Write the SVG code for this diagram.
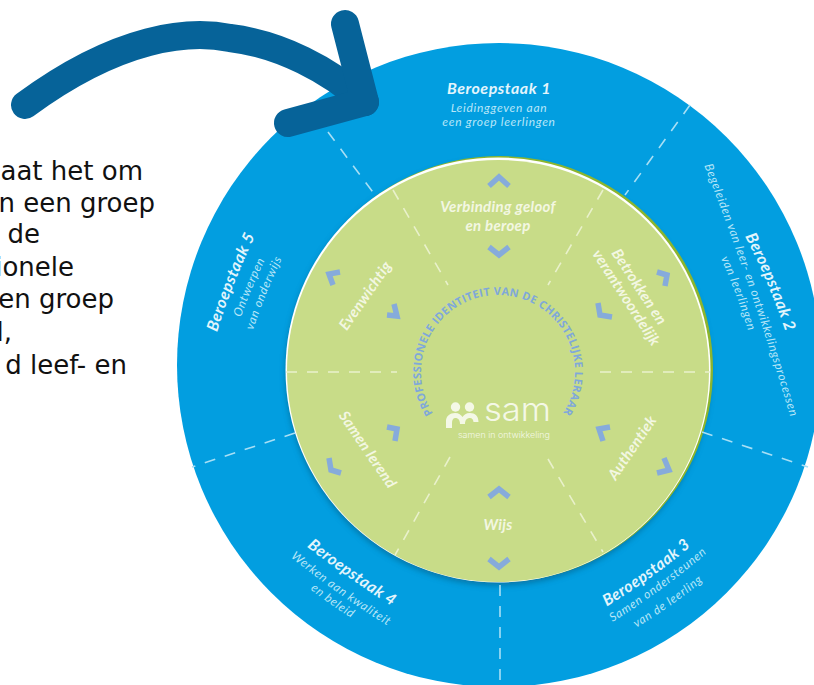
<svg xmlns="http://www.w3.org/2000/svg" width="814" height="685" viewBox="0 0 814 685">
<style>
.body{font-family:"DejaVu Sans",Verdana,sans-serif;font-size:26px;fill:#111;text-anchor:end}
.t{font-family:Lato,"Open Sans",sans-serif;font-weight:700;font-style:italic;font-size:16px;letter-spacing:.5px;fill:#E3F5FC;text-anchor:middle}
.s{font-family:Lato,"Open Sans",sans-serif;font-style:italic;font-size:12px;letter-spacing:.7px;fill:#B8E6F8;text-anchor:middle}
.g{font-family:Lato,"Open Sans",sans-serif;font-weight:700;font-style:italic;font-size:15px;letter-spacing:.3px;fill:#F3F7E2;text-anchor:middle}
.ring{font-family:"Open Sans",sans-serif;font-weight:700;font-size:11px;letter-spacing:.3px;fill:#7FA8DA;text-anchor:middle}
.da{fill:none;stroke:#A8DFF5;stroke-width:1.6;stroke-dasharray:11 10}
.di{fill:none;stroke:#E9F1CB;stroke-width:1.6;stroke-dasharray:11 10}
.ch{fill:none;stroke:#86ABDB;stroke-width:5.500}
.arrow{fill:none;stroke:#066399;stroke-width:28;stroke-linecap:round;stroke-linejoin:round}
</style>
<defs>
<filter id="sh" x="-10%" y="-10%" width="120%" height="120%"><feGaussianBlur stdDeviation="3"/></filter>
<path id="p2a" d="M735 218Q770 280 792 352"/>
<path id="p2b" d="M693 137Q754 289 799 447"/>
<path id="p2c" d="M712 240Q738 292 754 351"/>
<path id="p3a" d="M592 615Q652 581 704 535"/>
<path id="p3b" d="M596 632Q661 594 722 540"/>
<path id="p3c" d="M622 636Q672 608 716 570"/>
<path id="p4a" d="M292 535Q348 580 408 616"/>
<path id="p4b" d="M277 546Q337 596 403 635"/>
<path id="p4c" d="M300 581Q330 606 363 625"/>
<path id="p5a" d="M212 349Q230 285 263 220"/>
<path id="p5b" d="M236 332Q250 288 272 246"/>
<path id="p5c" d="M248 347Q264 292 290 243"/>
<path id="ga" d="M336 347L403 250"/>
<path id="gb1" d="M600 236L670 343"/>
<path id="gb2" d="M580 236L664 365"/>
<path id="gc" d="M605 497L668 404"/>
<path id="gd" d="M327 399L400 506"/>
<path id="ringp" d="M448.500 431A77 77 0 1 1 547.500 431"/>
</defs>
<g id="intro-text">
<text class="body" x="143" y="180">aat het om</text>
<text class="body" x="155" y="212">n een groep</text>
<text class="body" x="40" y="243">de</text>
<text class="body" x="74" y="276">ionele</text>
<text class="body" x="114" y="308">en groep</text>
<text class="body" x="12" y="341">l,</text>
<text class="body" x="127" y="374">d leef- en</text>
</g>
<g id="outer-ring">
<circle cx="499" cy="365" r="322" fill="#029EE0"/>
</g>
<g id="inner-disc">
<circle cx="498" cy="373" r="212" fill="#0A4F70" opacity=".55" filter="url(#sh)"/>
<circle cx="500" cy="369" r="213" fill="#8CB52E"/>
<circle cx="498" cy="370" r="212.500" fill="#FFFFFF"/>
<circle cx="498" cy="371" r="211" fill="#C8DC88"/>
</g>
<g id="connectors">
<path class="da" d="M328 132L375 195"/>
<path class="da" d="M690 105L625 195"/>
<path class="da" d="M702 432L808 467"/>
<path class="da" d="M500 585V685"/>
<path class="da" d="M295 433L192 467"/>
<path class="di" d="M393 190L448 285"/>
<path class="di" d="M603 190L548 285"/>
<path class="di" d="M600 372H710"/>
<path class="di" d="M286 372H397"/>
<path class="di" d="M548 459L603 552"/>
<path class="di" d="M450 457L395 555"/>
<path class="arrow" d="M25 105C120 35 190 30 230 38C280 44 330 70 365 102"/>
<path class="arrow" d="M345 24L365 102L288 123"/>
</g>
<g id="beroepstaak-1">
<text class="t" x="499" y="94">Beroepstaak 1</text>
<text class="s" x="499" y="112">Leidinggeven aan</text>
<text class="s" x="499" y="126">een groep leerlingen</text>
</g>
<g id="beroepstaak-2">
<text class="t"><textPath href="#p2a" startOffset="50%">Beroepstaak 2</textPath></text>
<text class="s"><textPath href="#p2b" startOffset="50%">Begeleiden van leer- en ontwikkelingsprocessen</textPath></text>
<text class="s"><textPath href="#p2c" startOffset="50%">van leerlingen</textPath></text>
</g>
<g id="beroepstaak-3">
<text class="t"><textPath href="#p3a" startOffset="50%">Beroepstaak 3</textPath></text>
<text class="s"><textPath href="#p3b" startOffset="50%">Samen ondersteunen</textPath></text>
<text class="s"><textPath href="#p3c" startOffset="50%">van de leerling</textPath></text>
</g>
<g id="beroepstaak-4">
<text class="t"><textPath href="#p4a" startOffset="50%">Beroepstaak 4</textPath></text>
<text class="s"><textPath href="#p4b" startOffset="50%">Werken aan kwaliteit</textPath></text>
<text class="s"><textPath href="#p4c" startOffset="50%">en beleid</textPath></text>
</g>
<g id="beroepstaak-5">
<text class="t"><textPath href="#p5a" startOffset="50%">Beroepstaak 5</textPath></text>
<text class="s"><textPath href="#p5b" startOffset="50%">Ontwerpen</textPath></text>
<text class="s"><textPath href="#p5c" startOffset="50%">van onderwijs</textPath></text>
</g>
<g id="verbinding">
<polyline class="ch" points="489,186 499,177 509,186"/>
<polyline class="ch" points="489,247 499,255 509,247"/>
<text class="g" x="498" y="212">Verbinding geloof</text>
<text class="g" x="498" y="231">en beroep</text>
</g>
<g id="betrokken">
<polyline class="ch" points="657,272 667,275 665,286"/>
<polyline class="ch" points="598,303 600,315 612,317"/>
<text class="g"><textPath href="#gb1" startOffset="50%">Betrokken en</textPath></text>
<text class="g"><textPath href="#gb2" startOffset="50%">verantwoordelijk</textPath></text>
</g>
<g id="authentiek">
<polyline class="ch" points="610,427 599,429 603,441"/>
<polyline class="ch" points="664,458 669,470 657,473"/>
<text class="g"><textPath href="#gc" startOffset="50%">Authentiek</textPath></text>
</g>
<g id="wijs">
<polyline class="ch" points="489,497 499,489 509,497"/>
<polyline class="ch" points="489,559 499,567 509,559"/>
<text class="g" x="498" y="530">Wijs</text>
</g>
<g id="samen-lerend">
<polyline class="ch" points="387,427 397,429 395,441"/>
<polyline class="ch" points="329,458 331,470 341,473"/>
<text class="g"><textPath href="#gd" startOffset="50%">Samen lerend</textPath></text>
</g>
<g id="evenwichtig">
<polyline class="ch" points="340,272 329,274 333,285"/>
<polyline class="ch" points="387,315 397,316 394,304"/>
<text class="g"><textPath href="#ga" startOffset="50%">Evenwichtig</textPath></text>
</g>
<g id="identity">
<text class="ring"><textPath href="#ringp" startOffset="50%">PROFESSIONELE IDENTITEIT VAN DE CHRISTELIJKE LERAAR</textPath></text>
</g>
<g id="logo" fill="#F4F8E6">
<circle cx="455.500" cy="407" r="4.700"/>
<circle cx="469.500" cy="407" r="4.700"/>
<path d="M446 428V421C446 416 450 413 455 413C459 413 461 415 462.500 417C464 415 466 413 470 413C475 413 478.500 416 478.500 422H473.500C473 419 472 418 470 418C467 418 465 420 465 424H460C460 420 458 418 455.500 418C453 418 452 420 452 423V428Z"/>
<text x="484" y="421" font-family="Inter,Roboto,sans-serif" font-weight="300" font-size="33" textLength="67" lengthAdjust="spacingAndGlyphs">sam</text>
<text x="458" y="438" font-family="Inter,Roboto,sans-serif" font-weight="300" font-size="8.500" textLength="92" lengthAdjust="spacingAndGlyphs">samen in ontwikkeling</text>
</g>
</svg>
